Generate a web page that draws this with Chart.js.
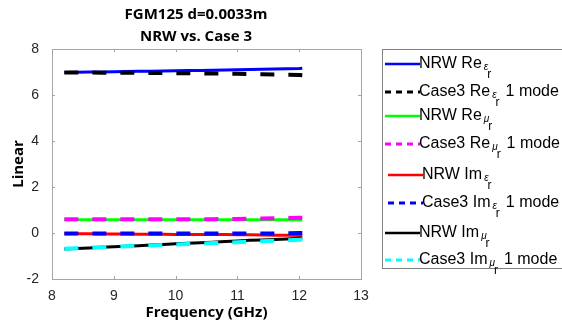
<!DOCTYPE html>
<html>
<head>
<meta charset="utf-8">
<script src="https://cdn.jsdelivr.net/npm/chart.js@4.4.0/dist/chart.umd.min.js"></script>
<style>
  html, body { margin: 0; padding: 0; background: #fff; }
  #wrap { width: 562px; height: 326px; }
</style>
</head>
<body>
<div id="wrap"><canvas id="myChart" width="562" height="326"></canvas></div>
<script>
// frequency points (GHz)
var freq = [8.2, 8.4, 8.6, 8.8, 9.0, 9.2, 9.4, 9.6, 9.8, 10.0, 10.2, 10.4, 10.6, 10.8, 11.0, 11.2, 11.4, 11.6, 11.8, 12.0, 12.05];

var nrwReEps   = [6.98, 6.99, 7.00, 7.00, 7.01, 7.02, 7.03, 7.03, 7.04, 7.05, 7.06, 7.07, 7.08, 7.09, 7.10, 7.11, 7.12, 7.13, 7.14, 7.15, 7.16];
var case3ReEps = [6.98, 6.98, 6.98, 6.97, 6.97, 6.97, 6.96, 6.96, 6.96, 6.95, 6.95, 6.94, 6.93, 6.93, 6.92, 6.91, 6.90, 6.89, 6.88, 6.87, 6.86];
var nrwReMu    = [0.58, 0.58, 0.58, 0.58, 0.58, 0.58, 0.58, 0.58, 0.58, 0.58, 0.58, 0.58, 0.58, 0.58, 0.58, 0.58, 0.58, 0.58, 0.58, 0.58, 0.58];
var case3ReMu  = [0.60, 0.60, 0.60, 0.60, 0.60, 0.60, 0.60, 0.60, 0.60, 0.60, 0.60, 0.60, 0.60, 0.61, 0.61, 0.62, 0.63, 0.64, 0.65, 0.66, 0.66];
var nrwImEps   = [-0.03, -0.03, -0.03, -0.04, -0.04, -0.04, -0.05, -0.05, -0.05, -0.06, -0.06, -0.06, -0.07, -0.07, -0.08, -0.08, -0.09, -0.10, -0.10, -0.11, -0.12];
var case3ImEps = [-0.02, -0.02, -0.02, -0.02, -0.02, -0.02, -0.02, -0.02, -0.02, -0.02, -0.02, -0.02, -0.02, -0.02, -0.02, -0.02, -0.02, -0.02, -0.01, 0.00, 0.00];
var nrwImMu    = [-0.70, -0.67, -0.65, -0.62, -0.60, -0.58, -0.55, -0.52, -0.50, -0.47, -0.45, -0.42, -0.40, -0.37, -0.35, -0.32, -0.30, -0.28, -0.26, -0.23, -0.22];
var case3ImMu  = [-0.68, -0.66, -0.64, -0.62, -0.60, -0.58, -0.56, -0.54, -0.52, -0.50, -0.48, -0.46, -0.44, -0.42, -0.40, -0.38, -0.36, -0.34, -0.32, -0.29, -0.28];

var seriesNames = ["NRW Re", "Case3 Re", "NRW Re", "Case3 Re", "NRW Im", "Case3 Im", "NRW Im", "Case3 Im"];
var seriesSym = ["\u03b5", "\u03b5", "\u03bc", "\u03bc", "\u03b5", "\u03b5", "\u03bc", "\u03bc"];
var seriesSuffix = ["", "1 mode", "", "1 mode", "", "1 mode", "", "1 mode"];
var seriesData = [nrwReEps, case3ReEps, nrwReMu, case3ReMu, nrwImEps, case3ImEps, nrwImMu, case3ImMu];
var seriesColors = ["#0000ff", "#000000", "#00ff00", "#ff00ff", "#ff0000", "#0000ff", "#000000", "#00ffff"];
var seriesDashed = [false, true, false, true, false, true, false, true];

var xTicks = [8, 9, 10, 11, 12, 13];
var yTicks = [-2, 0, 2, 4, 6, 8];

function pts(ys) {
    var out = [];
    for (var i = 0; i < freq.length; i++) out.push({ x: freq[i], y: ys[i] });
    return out;
}

var datasets = [];
for (var i = 0; i < seriesData.length; i++) {
    datasets.push({
        label: seriesNames[i] + seriesSym[i] + "r " + seriesSuffix[i],
        data: pts(seriesData[i]),
        borderColor: seriesColors[i],
        borderWidth: seriesDashed[i] ? 4 : 3,
        borderDash: seriesDashed[i] ? [14, 14] : [],
        pointRadius: 0,
        fill: false,
        tension: 0,
        order: seriesData.length - i
    });
}

// box + inward ticks, like matlab "box on"
var boxPlugin = {
    id: "boxPlugin",
    afterDraw: function (chart) {
        var ctx = chart.ctx, a = chart.chartArea;
        var xs = chart.scales.x, ys = chart.scales.y;
        ctx.save();
        ctx.strokeStyle = "#a6a6a6";
        ctx.lineWidth = 1;
        ctx.strokeRect(a.left + 0.5, a.top + 0.5, a.right - a.left, a.bottom - a.top);
        ctx.beginPath();
        xTicks.forEach(function (t) {
            var px = Math.round(xs.getPixelForValue(t)) + 0.5;
            ctx.moveTo(px, a.bottom); ctx.lineTo(px, a.bottom - 3);
            ctx.moveTo(px, a.top); ctx.lineTo(px, a.top + 3);
        });
        yTicks.forEach(function (t) {
            var py = Math.round(ys.getPixelForValue(t)) + 0.5;
            ctx.moveTo(a.left, py); ctx.lineTo(a.left + 3, py);
            ctx.moveTo(a.right, py); ctx.lineTo(a.right - 3, py);
        });
        ctx.stroke();
        ctx.restore();
    }
};

// legend with greek symbol + subscript r
var legendPlugin = {
    id: "legendPlugin",
    afterDraw: function (chart) {
        var ctx = chart.ctx;
        var rowY = [64, 92, 116, 144, 175, 203, 233, 260];
        var fnt = "'Liberation Sans', Arial, sans-serif";
        ctx.save();
        ctx.fillStyle = "#fff";
        ctx.fillRect(382, 49, 190, 219);
        ctx.strokeStyle = "#808080";
        ctx.lineWidth = 1;
        ctx.strokeRect(382.5, 49.5, 190, 219);
        for (var i = 0; i < seriesNames.length; i++) {
            var y = rowY[i];
            var shift = (i == 4 || i == 5) ? 3 : 0;
            ctx.beginPath();
            ctx.strokeStyle = seriesColors[i];
            ctx.lineWidth = seriesDashed[i] ? 3 : 2.5;
            ctx.setLineDash(seriesDashed[i] ? [6, 5] : []);
            ctx.moveTo(385 + shift, y);
            ctx.lineTo(420 + shift, y);
            ctx.stroke();
            ctx.setLineDash([]);
            ctx.fillStyle = "#000";
            ctx.textBaseline = "middle";
            var x = 419 + shift;
            ctx.font = "16px " + fnt;
            ctx.fillText(seriesNames[i], x, y);
            x += ctx.measureText(seriesNames[i]).width + 2;
            ctx.font = "italic 10px " + fnt;
            ctx.fillText(seriesSym[i], x, y + 3);
            x += ctx.measureText(seriesSym[i]).width - 1;
            ctx.font = "12px " + fnt;
            ctx.fillText("r", x, y + 11);
            x += ctx.measureText("r").width + 6;
            ctx.font = "16px " + fnt;
            ctx.fillText(seriesSuffix[i], x, y);
        }
        ctx.restore();
    }
};

new Chart("myChart", {
    type: "line",
    data: { datasets: datasets },
    options: {
        responsive: false,
        animation: false,
        layout: { padding: { left: 0, right: 201, top: 49, bottom: 0 } },
        plugins: {
            legend: { display: false },
            tooltip: { enabled: false },
            title: { display: false }
        },
        scales: {
            x: {
                type: "linear",
                min: 8, max: 13,
                afterFit: function (s) { s.height = 47; },
                afterBuildTicks: function (s) { s.ticks = xTicks.map(function (v) { return { value: v }; }); },
                grid: { display: false },
                border: { display: false },
                ticks: { color: "#262626", padding: 1, font: { family: "'Liberation Sans', Arial, sans-serif", size: 14 }, maxRotation: 0 },
                title: { display: true, text: "Frequency (GHz)", color: "#000", padding: { top: 0, bottom: 4 }, font: { family: "'Open Sans', sans-serif", size: 15, weight: "bold" } }
            },
            y: {
                type: "linear",
                min: -2, max: 8,
                afterFit: function (s) { s.width = 52; },
                afterBuildTicks: function (s) { s.ticks = yTicks.map(function (v) { return { value: v }; }); },
                grid: { display: false },
                border: { display: false },
                ticks: { color: "#262626", padding: 5, font: { family: "'Liberation Sans', Arial, sans-serif", size: 14 } },
                title: { display: true, text: "Linear", color: "#000", padding: { top: 10, bottom: 0 }, font: { family: "'Open Sans', sans-serif", size: 15, weight: "bold" } }
            }
        }
    },
    plugins: [boxPlugin, legendPlugin, {
        id: "titleText",
        afterDraw: function (chart) {
            var ctx = chart.ctx;
            ctx.save();
            ctx.fillStyle = "#000";
            ctx.textAlign = "center";
            ctx.textBaseline = "middle";
            ctx.font = "bold 15px 'Open Sans', sans-serif";
            ctx.fillText("FGM125 d=0.0033m", 196, 15);
            ctx.fillText("NRW vs. Case 3", 196, 37);
            ctx.restore();
        }
    }]
});
</script>
</body>
</html>
